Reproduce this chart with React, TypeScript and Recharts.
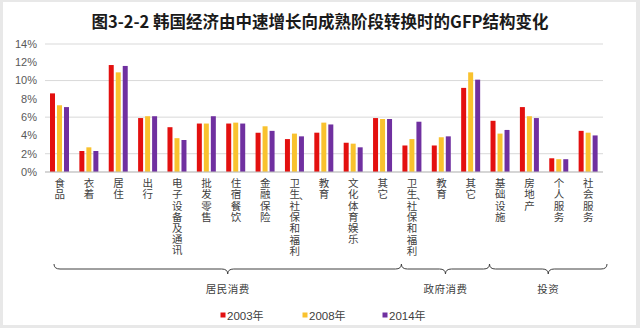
import React from 'react';
import { BarChart, Bar, XAxis, YAxis, CartesianGrid } from 'recharts';

const title = '图3-2-2 韩国经济由中速增长向成熟阶段转换时的GFP结构变化';
const categories = ['食品', '衣着', '居住', '出行', '电子设备及通讯', '批发零售', '住宿餐饮', '金融保险', '卫生、社保和福利', '教育', '文化体育娱乐', '其它', '卫生、社保和福利', '教育', '其它', '基础设施', '房地产', '个人服务', '社会服务'];
const v2003 = [8.6, 2.3, 11.7, 5.9, 4.9, 5.3, 5.3, 4.3, 3.6, 4.3, 3.2, 5.9, 2.9, 2.9, 9.2, 5.6, 7.1, 1.5, 4.5];
const v2008 = [7.3, 2.7, 10.9, 6.1, 3.7, 5.3, 5.4, 5.0, 4.2, 5.4, 3.1, 5.8, 3.6, 3.8, 10.9, 4.2, 6.1, 1.4, 4.3];
const v2014 = [7.1, 2.3, 11.6, 6.1, 3.5, 6.1, 5.3, 4.5, 3.9, 5.2, 2.7, 5.8, 5.5, 3.9, 10.1, 4.6, 5.9, 1.4, 4.0];
const seriesNames = ['2003年', '2008年', '2014年'];
const seriesColors = ['#e3100f', '#f9c22e', '#7030a0'];
const groupNames = ['居民消费', '政府消费', '投资'];
const groupCounts = [12, 3, 4];
const yTicks = [0, 2, 4, 6, 8, 10, 12, 14];

const data = categories.map((c, i) => ({ cat: c, a: v2003[i], b: v2008[i], c: v2014[i] }));
const keys = ['a', 'b', 'c'];

const W = 640;
const H = 328;
const PLOT_LEFT = 45;
const PLOT_RIGHT = 603;
const PLOT_TOP = 44;
const PLOT_BOTTOM = 172;
const BAND = (PLOT_RIGHT - PLOT_LEFT) / categories.length;
const CJK = '"Noto Sans CJK SC", "Noto Sans", sans-serif';
const LATIN = '"Liberation Sans", Arial, sans-serif';
const LABEL_FS = 10.5;
const LABEL_GAP = 0.7;
const CELL = LABEL_FS + LABEL_GAP;

function splitParts(label: string) {
  const i = label.indexOf('、');
  if (i < 0) return [label];
  return [label.slice(0, i), '、', label.slice(i + 1)];
}

function bracePath(a: number, b: number, yLine: number) {
  const m = (a + b) / 2;
  const up = 5;
  const down = 5;
  const r = 6;
  return `M${a},${yLine - up} Q${a},${yLine} ${a + r},${yLine} L${m - r},${yLine} Q${m},${yLine} ${m},${yLine + down} Q${m},${yLine} ${m + r},${yLine} L${b - r},${yLine} Q${b},${yLine} ${b},${yLine - up}`;
}

function Decor() {
  const yLine = 269;
  const braces: { a: number; b: number; name: string }[] = [];
  let start = 0;
  let prevEnd = PLOT_LEFT + 9;
  groupCounts.forEach((n, gi) => {
    const end = start + n;
    const bx = PLOT_LEFT + end * BAND + 4;
    braces.push({ a: prevEnd, b: bx, name: groupNames[gi] });
    prevEnd = bx;
    start = end;
  });
  const legendX = [223, 305, 385];
  return (
    <g>
      {braces.map((br, i) => (
        <g key={i}>
          <path d={bracePath(br.a, br.b, yLine)} fill="none" stroke="#404040" strokeWidth={1} />
          <text x={(br.a + br.b) / 2} y={293} textAnchor="middle" fontSize={10.5} fontFamily={CJK} fill="#404040" letterSpacing={0.5}>
            {br.name}
          </text>
        </g>
      ))}
      {seriesNames.map((s, i) => (
        <g key={s}>
          <rect x={legendX[i] - 2.5} y={312.5} width={5} height={5} fill={seriesColors[i]} />
          <text x={legendX[i] + 4} y={319.5} fontSize={11.5} fontFamily={LATIN} fill="#404040">
            {s.replace('年', '')}
            <tspan fontFamily={CJK} fontSize={11}>年</tspan>
          </text>
        </g>
      ))}
    </g>
  );
}

function CatTick(props: any) {
  const { x, payload, index } = props;
  const idx = payload && payload.index != null ? payload.index : index;
  const label = categories[idx] ?? String(payload.value);
  const parts = splitParts(label);
  const y0 = PLOT_BOTTOM + 6;
  return (
    <g>
      <text
        x={x}
        y={y0}
        fontSize={LABEL_FS}
        fontFamily={CJK}
        fill="#404040"
        letterSpacing={LABEL_GAP}
        style={{ writingMode: 'vertical-rl' as any }}
      >
        {parts.length === 1 ? (
          label
        ) : (
          <>
            <tspan>{parts[0]}</tspan>
            <tspan dy={-CELL * 0.3} dx={3}>{parts[1]}</tspan>
            <tspan dy={-CELL * 0.7} dx={-3}>{parts[2]}</tspan>
          </>
        )}
      </text>
      {idx === 0 && <Decor />}
    </g>
  );
}

export default function App() {
  return (
    <div style={{ position: 'absolute', left: 0, top: 0, width: W, height: H, background: '#e8e8e8' }}>
      <div style={{ position: 'absolute', left: 3, top: 2, right: 4, bottom: 3, background: '#ffffff' }} />
      <div style={{ position: 'absolute', left: 0, top: 0 }}>
        <svg width={W} height={40} style={{ position: 'absolute', left: 0, top: 0 }}>
          <text x={320} y={28} textAnchor="middle" fontSize={16.5} fontWeight="bold" fontFamily={CJK} fill="#1a1a1a">
            {title}
          </text>
        </svg>
        <BarChart
          width={W}
          height={H}
          data={data}
          margin={{ top: PLOT_TOP, right: W - PLOT_RIGHT, left: 0, bottom: 0 }}
          barSize={5}
          barGap={2}
        >
          <CartesianGrid vertical={false} stroke="#d9d9d9" />
          <XAxis
            dataKey="cat"
            interval={0}
            height={H - PLOT_BOTTOM}
            axisLine={{ stroke: '#bfbfbf' }}
            tickLine={false}
            tick={<CatTick />}
          />
          <YAxis
            width={PLOT_LEFT}
            domain={[0, 14]}
            ticks={yTicks}
            axisLine={false}
            tickLine={false}
            tickFormatter={(v: number) => `${v}%`}
            tick={{ fontSize: 11, fill: '#595959', fontFamily: LATIN }}
          />
          {keys.map((k, i) => (
            <Bar key={k} dataKey={k} name={seriesNames[i]} fill={seriesColors[i]} isAnimationActive={false} />
          ))}
        </BarChart>
      </div>
    </div>
  );
}
